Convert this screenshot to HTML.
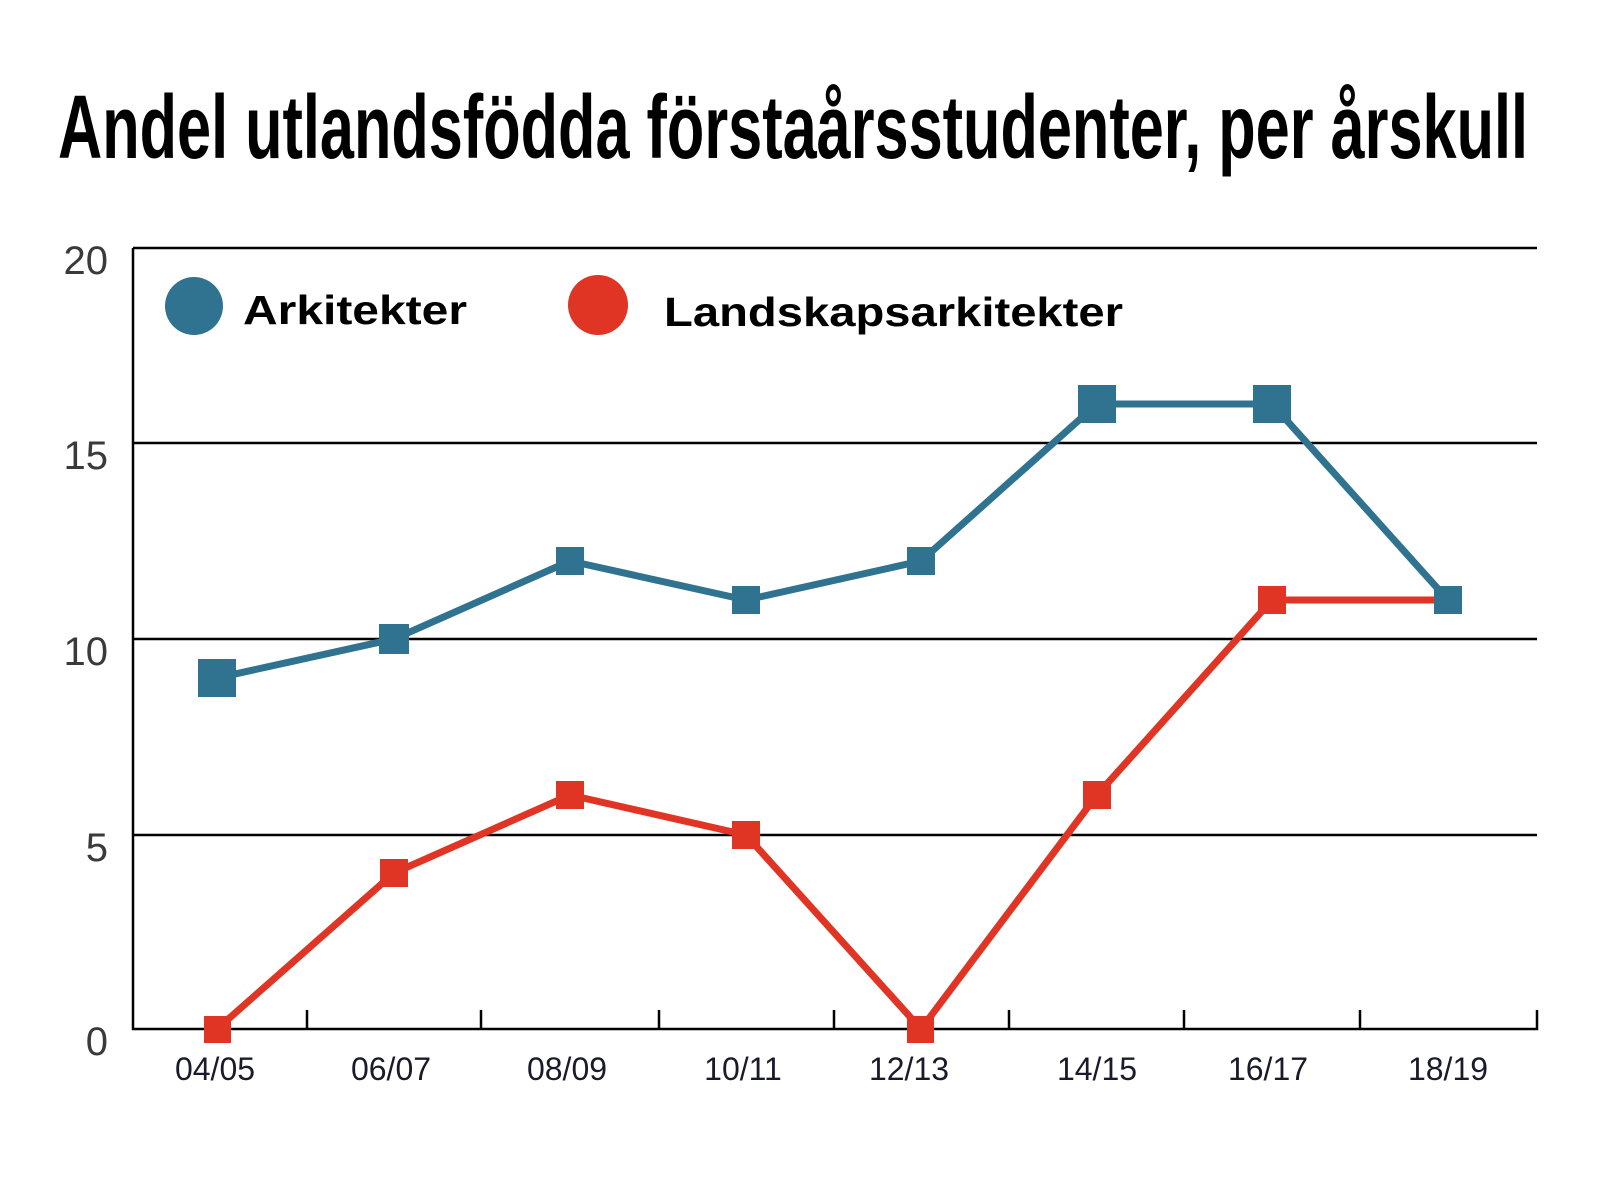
<!DOCTYPE html>
<html><head><meta charset="utf-8"><style>body{margin:0;background:#fff}svg{display:block}</style></head><body>
<svg width="1600" height="1200" xmlns="http://www.w3.org/2000/svg">
<rect width="1600" height="1200" fill="#fff"/>
<text x="58" y="158" font-family="Liberation Sans Narrow, Liberation Sans, sans-serif" font-weight="bold" font-size="90" textLength="1470" lengthAdjust="spacingAndGlyphs" fill="#000">Andel utlandsfödda förstaårsstudenter, per årskull</text>
<g stroke="#000" stroke-width="2.5" fill="none">
<line x1="133" y1="248" x2="1537" y2="248"/>
<line x1="133" y1="443" x2="1537" y2="443"/>
<line x1="133" y1="639" x2="1537" y2="639"/>
<line x1="133" y1="835" x2="1537" y2="835"/>
<polyline points="133,248 133,1029 1537,1029 1537,1010"/>
<line x1="307" y1="1029" x2="307" y2="1010"/><line x1="481" y1="1029" x2="481" y2="1010"/>
<line x1="659" y1="1029" x2="659" y2="1010"/><line x1="834" y1="1029" x2="834" y2="1010"/>
<line x1="1009" y1="1029" x2="1009" y2="1010"/><line x1="1184" y1="1029" x2="1184" y2="1010"/>
<line x1="1360" y1="1029" x2="1360" y2="1010"/>
</g>
<g font-family="Liberation Sans, sans-serif" font-size="40" fill="#3a3a3a" font-weight="normal" text-anchor="end">
<text x="108" y="274">20</text><text x="108" y="469">15</text><text x="108" y="665">10</text><text x="108" y="861">5</text><text x="108" y="1055">0</text>
</g>
<g font-family="Liberation Sans, sans-serif" font-size="32" fill="#1a1a2a" text-anchor="middle">
<text x="215" y="1080">04/05</text><text x="391" y="1080">06/07</text><text x="567" y="1080">08/09</text><text x="743" y="1080">10/11</text><text x="909" y="1080">12/13</text><text x="1097" y="1080">14/15</text><text x="1268" y="1080">16/17</text><text x="1448" y="1080">18/19</text>
</g>
<circle cx="194" cy="306" r="29" fill="#2f7390"/>
<text x="243" y="324" font-family="Liberation Sans, sans-serif" font-weight="bold" font-size="41" fill="#000" textLength="224" lengthAdjust="spacingAndGlyphs">Arkitekter</text>
<circle cx="598" cy="305" r="30" fill="#e03524"/>
<text x="664" y="326" font-family="Liberation Sans, sans-serif" font-weight="bold" font-size="41" fill="#000" textLength="459" lengthAdjust="spacingAndGlyphs">Landskapsarkitekter</text>
<polyline fill="none" stroke="#2f7390" stroke-width="7" stroke-linejoin="round" points="217,678 394,639 570,561 746,600 921,561 1097,404 1272,404 1448,600"/>
<g fill="#2f7390">
<rect x="198" y="659" width="38" height="38"/><rect x="379" y="624" width="30" height="30"/><rect x="556" y="547" width="28" height="28"/><rect x="732" y="586" width="28" height="28"/><rect x="907" y="547" width="28" height="28"/><rect x="1078" y="385" width="38" height="38"/><rect x="1253" y="385" width="38" height="38"/><rect x="1434" y="586" width="28" height="28"/>
</g>
<polyline fill="none" stroke="#e03524" stroke-width="7" stroke-linejoin="round" points="217,1029 394,873 570,795 746,835 921,1029 1097,795 1272,600 1448,600"/>
<g fill="#e03524">
<rect x="204" y="1016" width="27" height="27"/><rect x="380" y="859" width="28" height="28"/><rect x="556" y="781" width="28" height="28"/><rect x="732" y="821" width="28" height="28"/><rect x="907" y="1016" width="27" height="27"/><rect x="1083" y="781" width="28" height="28"/><rect x="1258" y="586" width="28" height="28"/>
</g>
<rect x="1434" y="586" width="28" height="28" fill="#2f7390"/>
</svg>
</body></html>
